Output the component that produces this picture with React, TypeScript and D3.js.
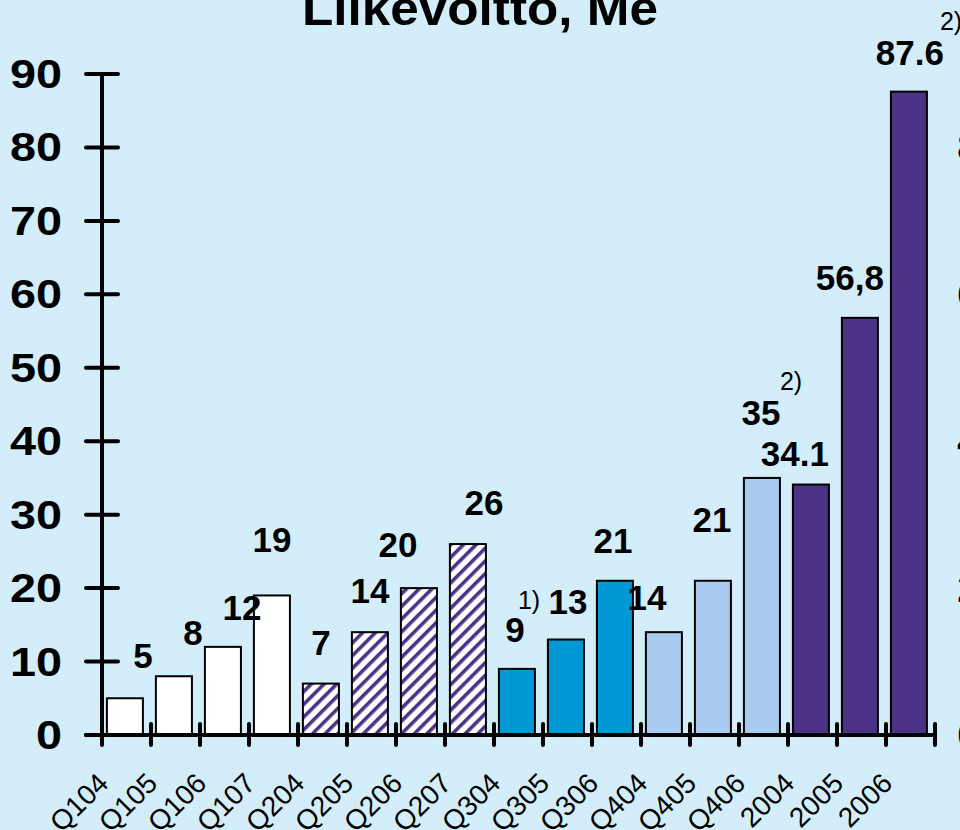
import React from 'react';
import * as d3 from 'd3';

const categories = ['Q104', 'Q105', 'Q106', 'Q107', 'Q204', 'Q205', 'Q206', 'Q207', 'Q304', 'Q305', 'Q306', 'Q404', 'Q405', 'Q406', '2004', '2005', '2006'];
const values = [5, 8, 12, 19, 7, 14, 20, 26, 9, 13, 21, 14, 21, 35, 34.1, 56.8, 87.6];
const valueLabels = ['5', '8', '12', '19', '7', '14', '20', '26', '9', '13', '21', '14', '21', '35', '34.1', '56,8', '87.6'];
const groups = ['q1', 'q1', 'q1', 'q1', 'q2', 'q2', 'q2', 'q2', 'q3', 'q3', 'q3', 'q4', 'q4', 'q4', 'year', 'year', 'year'];
const yTicks = [0, 10, 20, 30, 40, 50, 60, 70, 80, 90];
const rightTicks = [0, 20, 40, 60, 80];
const footnoteIndex = [8, 13, 16];
const footnoteText = ['1)', '2)', '2)'];

// value labels were placed by hand on the slide: shift from bar centre, lift above bar top
const labelDx = [18, 19, 19, 0, 0, 0, -21, 16, -2, 2, -2, -17, -1, -1, -16, -10, 1];
const labelLift = [30, 31, 27, 43, 29, 29, 31, 29, 27, 26, 28, 22, 49, 53, 19, 28, 27];
const noteDx = [1, 18, 31];
const noteLift = [60, 88, 62];

const FONT = '"Liberation Sans", Arial, sans-serif';

const fills: Record<string, string> = {
  q1: '#ffffff',
  q2: 'url(#hatch)',
  q3: '#0099d5',
  q4: '#a9cbef',
  year: '#4b3286',
};

const App: React.FC = () => {
  const width = 960;
  const height = 830;

  const x = d3.scaleBand<string>().domain(categories).range([102, 935]);
  const y = d3.scaleLinear().domain([0, 90]).range([735, 74]);

  const bw = x.bandwidth();
  const barX = (c: string) => (x(c) ?? 0) + bw * 0.1;
  const barW = bw * 0.735;
  const barMid = (c: string) => barX(c) + barW / 2;

  return (
    <svg width={width} height={height} style={{ position: 'absolute', left: 0, top: 0 }} fontFamily={FONT}>
      <defs>
        <pattern id="hatch" width={9} height={9} patternUnits="userSpaceOnUse" patternTransform="rotate(45)">
          <rect width={9} height={9} fill="#ffffff" />
          <rect width={3.6} height={9} fill="#4b3286" />
        </pattern>
      </defs>
      <rect width={width} height={height} fill="#d3eefa" />

      {/* title, cut at the top as in the slide */}
      <text x={480} y={25} textAnchor="middle" fontSize={48} fontWeight="bold" textLength={356} lengthAdjust="spacingAndGlyphs">
        Liikevoitto, Me
      </text>

      {/* bars */}
      {categories.map((c, i) => (
        <rect
          key={c}
          x={barX(c)}
          y={y(values[i])}
          width={barW}
          height={y(0) - y(values[i])}
          fill={fills[groups[i]]}
          stroke="#000"
          strokeWidth={2}
        />
      ))}

      {/* y axis */}
      <line x1={102} x2={102} y1={y(90)} y2={y(0)} stroke="#000" strokeWidth={4} />
      {yTicks.map(t => (
        <g key={t}>
          <line x1={86} x2={118} y1={y(t)} y2={y(t)} stroke="#000" strokeWidth={4} strokeLinecap="round" />
          <text x={62} y={y(t) + 14} textAnchor="end" fontSize={40} fontWeight="bold" textLength={26 * String(t).length} lengthAdjust="spacingAndGlyphs">
            {t}
          </text>
        </g>
      ))}

      {/* right axis labels, mostly outside the picture */}
      {rightTicks.map(t => (
        <text key={t} x={957} y={y(t) + 14} fontSize={40} fontWeight="bold" textLength={26 * String(t).length} lengthAdjust="spacingAndGlyphs">
          {t}
        </text>
      ))}

      {/* x axis */}
      <line x1={86} x2={935} y1={y(0)} y2={y(0)} stroke="#000" strokeWidth={4} strokeLinecap="round" />
      {categories.concat(['end']).map((c, k) => {
        const xx = 102 + bw * k;
        return <line key={c} x1={xx} x2={xx} y1={724} y2={745} stroke="#000" strokeWidth={4} strokeLinecap="round" />;
      })}
      {categories.map(c => (
        <text
          key={c}
          transform={`translate(${barMid(c) - 15},785) rotate(-45)`}
          textAnchor="end"
          fontSize={28}
        >
          {c}
        </text>
      ))}

      {/* value labels */}
      {categories.map((c, i) => (
        <text
          key={c}
          x={barMid(c) + labelDx[i]}
          y={y(values[i]) - labelLift[i]}
          textAnchor="middle"
          fontSize={35}
          fontWeight="bold"
        >
          {valueLabels[i]}
        </text>
      ))}

      {/* footnote markers */}
      {footnoteIndex.map((idx, j) => (
        <text
          key={j}
          x={barMid(categories[idx]) + noteDx[j]}
          y={y(values[idx]) - noteLift[j]}
          fontSize={25}
        >
          {footnoteText[j]}
        </text>
      ))}
    </svg>
  );
};

export default App;
